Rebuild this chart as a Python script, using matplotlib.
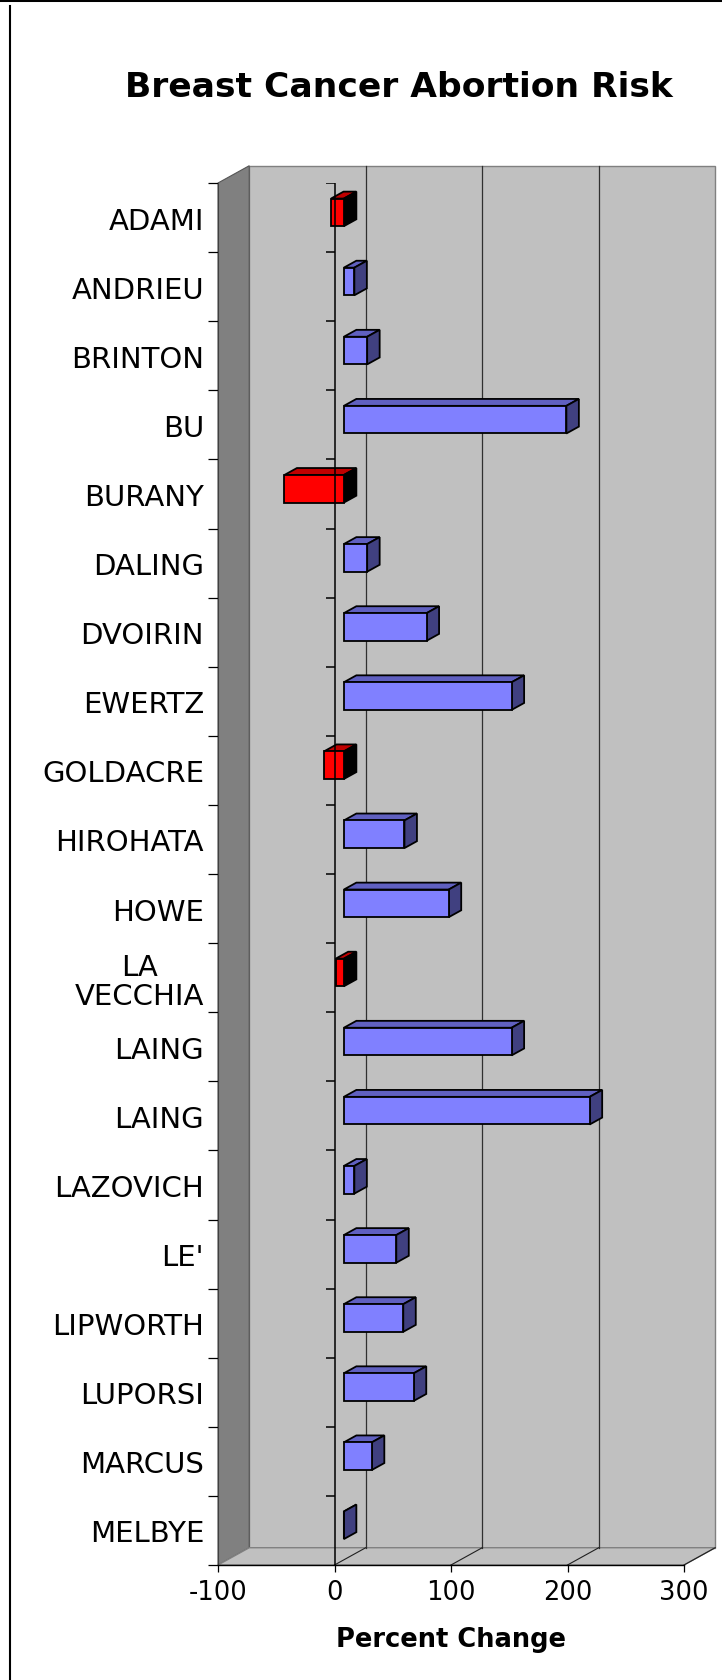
import matplotlib
matplotlib.use("Agg")
import matplotlib.pyplot as plt
from matplotlib.patches import Polygon, Rectangle
from matplotlib.lines import Line2D

# Percent change per study
studies = ["ADAMI", "ANDRIEU", "BRINTON", "BU", "BURANY", "DALING", "DVOIRIN",
           "EWERTZ", "GOLDACRE", "HIROHATA", "HOWE", "LA\nVECCHIA", "LAING",
           "LAING", "LAZOVICH", "LE'", "LIPWORTH", "LUPORSI", "MARCUS", "MELBYE"]
pct_change = [-11, 9, 20, 191, -51, 20, 71, 144, -17, 52, 90, -7, 144, 211,
              9, 45, 51, 60, 24, 0]
x_ticks = [-100, 0, 100, 200, 300]

plt.rcParams['font.family'] = ['DejaVu Sans']

fig = plt.figure(figsize=(7.22, 16.81), dpi=100)
ax = fig.add_axes([218 / 722, (1681 - 1566) / 1681, 466 / 722, 1382 / 1681])
ax.patch.set_visible(False)

n = len(studies)
xmin, xmax = x_ticks[0], x_ticks[-1]
ax.set_xlim(xmin, xmax)
ax.set_ylim(n, 0)

# depth of the 3D box in data units
D = 26.8
E = 0.25

# walls and floor
back = Polygon([(xmin + D, -E), (xmax + D, -E), (xmax + D, n - E), (xmin + D, n - E)],
               closed=True, fc="#C0C0C0", ec="#808080", lw=1, clip_on=False, zorder=0)
left = Polygon([(xmin, 0), (xmin + D, -E), (xmin + D, n - E), (xmin, n)],
               closed=True, fc="#808080", ec="#555555", lw=0.8, clip_on=False, zorder=0)
floor = Polygon([(xmin, n), (xmax, n), (xmax + D, n - E), (xmin + D, n - E)],
                closed=True, fc="#C0C0C0", ec="#808080", lw=1, clip_on=False, zorder=0)
for p in (back, left, floor):
    ax.add_patch(p)

# gridlines on back wall and floor
for v in x_ticks[1:-1]:
    ax.plot([v + D, v + D], [-E, n - E], color="#303030", lw=0.9, zorder=1, clip_on=False)
for v in x_ticks[1:]:
    ax.plot([v, v + D], [n, n - E], color="#202020", lw=0.8, zorder=1, clip_on=False)

# bars
h = 0.4
f0, f1 = 0.3, 0.7
for i, v in enumerate(pct_change):
    c = i + 0.5
    if v >= 0:
        front, top, side = "#8080FF", "#6060C0", "#404080"
    else:
        front, top, side = "#FF0000", "#C00000", "#000000"
    xl, xr = min(0, v), max(0, v)
    ox0, oy0 = f0 * D, -f0 * E
    ox1, oy1 = f1 * D, -f1 * E
    yt, yb = c - h / 2, c + h / 2
    ax.add_patch(Polygon([(xl + ox0, yt + oy0), (xr + ox0, yt + oy0),
                          (xr + ox1, yt + oy1), (xl + ox1, yt + oy1)],
                         fc=top, ec="black", lw=1.3, zorder=3, clip_on=False))
    ax.add_patch(Polygon([(xr + ox0, yt + oy0), (xr + ox1, yt + oy1),
                          (xr + ox1, yb + oy1), (xr + ox0, yb + oy0)],
                         fc=side, ec="black", lw=1.3, zorder=3, clip_on=False))
    ax.add_patch(Rectangle((xl + ox0, yt + oy0), xr - xl, h,
                           fc=front, ec="black", lw=1.3, zorder=4, clip_on=False))

# category axis drawn at zero on the front plane
ax.plot([0, 0], [0, n], color="black", lw=1.1, zorder=5)
ax.hlines(range(n), -7.7, 0, color="black", lw=1.1, zorder=5)

# ticks and labels
ax.set_yticks(range(n + 1))
ax.set_yticklabels([])
ax.set_yticks([i + 0.5 for i in range(n)], minor=True)
ax.set_yticklabels(studies, minor=True, fontsize=21)
for lab in ax.get_yticklabels(minor=True):
    lab.set_multialignment("center")
    lab.set_linespacing(1.05)
ax.tick_params(axis="y", which="major", length=7.2, width=0.9, direction="out")
ax.tick_params(axis="y", which="minor", length=0, pad=10)

ax.set_xticks(x_ticks)
ax.set_xticklabels([str(t) for t in x_ticks], fontsize=18.5)
ax.tick_params(axis="x", length=5, width=0.9, pad=5)

for s in ("top", "right"):
    ax.spines[s].set_visible(False)
ax.spines["left"].set_color("#404040")
ax.spines["left"].set_linewidth(0.8)
ax.spines["bottom"].set_linewidth(1)

ax.set_xlabel("Percent Change", fontsize=18.5, fontweight="bold")
ax.xaxis.set_label_coords(0.5, -(1640 - 1566) / 1382)
ax.xaxis.label.set_va("center")

fig.text(399 / 722, 1 - 97 / 1681, "Breast Cancer Abortion Risk",
         ha="center", va="baseline", fontsize=24.8, fontweight="bold")

# page border lines
fig.add_artist(Line2D([0, 1], [1 - 1 / 1681, 1 - 1 / 1681], color="black", lw=2.2,
                      transform=fig.transFigure))
fig.add_artist(Line2D([10 / 722, 10 / 722], [0, 1 - 7 / 1681], color="black", lw=1.5,
                      transform=fig.transFigure))

fig.savefig("out.png", dpi=100)
